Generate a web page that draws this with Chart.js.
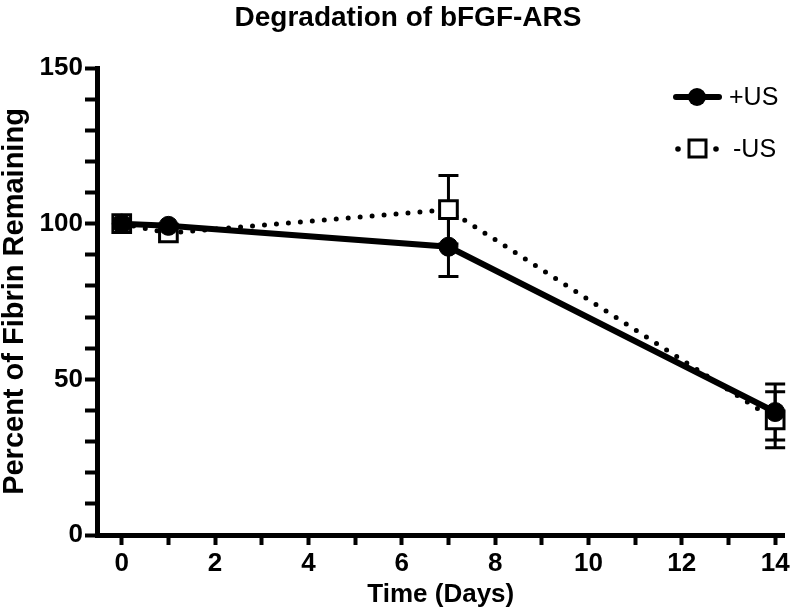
<!DOCTYPE html>
<html>
<head>
<meta charset="utf-8">
<script src="https://cdn.jsdelivr.net/npm/chart.js@4"></script>
<style>
  body { margin: 0; background: #fff; }
  #wrap { width: 800px; height: 614px; }
</style>
</head>
<body>
<div id="wrap"><canvas id="myChart"></canvas></div>
<script>
// data
var days = [0, 1, 7, 14];
var plusUS = [100, 99.3, 92.6, 39.5];
var plusErr = [0, 0, 9.6, 9];
var minusUS = [100, 97, 104.5, 37];
var minusErr = [0, 0, 11, 9];
var xTicks = [0, 2, 4, 6, 8, 10, 12, 14];
var yTicks = [0, 50, 100, 150];
var titleText = 'Degradation of bFGF-ARS';

var FONT = "'Liberation Sans', Arial, sans-serif";

function toPoints(xs, ys) {
  return xs.map(function (x, i) { return { x: x, y: ys[i] }; });
}

// error bars, drawn under the markers
var errorBars = {
  id: 'errorBars',
  beforeDatasetsDraw: function (chart) {
    var ctx = chart.ctx;
    var xs = chart.scales.x, ys = chart.scales.y;
    var sets = [[plusUS, plusErr], [minusUS, minusErr]];
    ctx.save();
    ctx.strokeStyle = '#000';
    ctx.lineWidth = 3;
    sets.forEach(function (s) {
      days.forEach(function (d, i) {
        var e = s[1][i];
        if (!e) return;
        var px = xs.getPixelForValue(d);
        var top = ys.getPixelForValue(s[0][i] + e);
        var bot = ys.getPixelForValue(s[0][i] - e);
        ctx.beginPath();
        ctx.moveTo(px, top); ctx.lineTo(px, bot);
        ctx.moveTo(px - 10, top); ctx.lineTo(px + 10, top);
        ctx.moveTo(px - 10, bot); ctx.lineTo(px + 10, bot);
        ctx.stroke();
      });
    });
    ctx.restore();
  }
};

// title (a bit right of centre, like the original) and a legend with line + marker samples
var extras = {
  id: 'extras',
  afterDraw: function (chart) {
    var ctx = chart.ctx;
    ctx.save();
    ctx.fillStyle = '#000';
    ctx.font = 'bold 28px ' + FONT;
    ctx.textAlign = 'center';
    ctx.textBaseline = 'middle';
    ctx.fillText(titleText, 408, 18);

    ctx.strokeStyle = '#000';
    // +US
    ctx.lineWidth = 6;
    ctx.lineCap = 'round';
    ctx.beginPath();
    ctx.moveTo(676, 97); ctx.lineTo(719, 97);
    ctx.stroke();
    ctx.beginPath();
    ctx.arc(697, 97, 9, 0, Math.PI * 2);
    ctx.fill();
    // -US
    ctx.beginPath();
    ctx.arc(678, 149, 2.8, 0, Math.PI * 2);
    ctx.arc(716, 149, 2.8, 0, Math.PI * 2);
    ctx.fill();
    ctx.lineWidth = 3;
    ctx.fillStyle = '#fff';
    ctx.fillRect(689, 140, 17, 17);
    ctx.strokeRect(689, 140, 17, 17);
    ctx.fillStyle = '#000';
    ctx.font = '25px ' + FONT;
    ctx.textAlign = 'left';
    ctx.fillText('+US', 729, 98);
    ctx.fillText('-US', 733, 150);
    ctx.restore();
  }
};

Chart.defaults.color = '#000';
Chart.defaults.font.family = FONT;

var ctx = document.getElementById('myChart').getContext('2d');
var myChart = new Chart(ctx, {
  type: 'line',
  data: {
    datasets: [{
      label: '+US',
      data: toPoints(days, plusUS),
      borderColor: '#000',
      backgroundColor: '#000',
      borderWidth: 6,
      pointRadius: 9.5,
      pointBorderWidth: 1,
      pointStyle: 'circle',
      clip: false
    }, {
      label: '-US',
      data: toPoints(days, minusUS),
      borderColor: '#000',
      backgroundColor: '#fff',
      borderWidth: 5,
      borderDash: [0, 12],
      borderCapStyle: 'round',
      pointRadius: 12.5,
      pointBorderWidth: 3,
      pointBorderColor: '#000',
      pointBackgroundColor: '#fff',
      pointStyle: 'rect',
      clip: false
    }]
  },
  options: {
    responsive: true,
    maintainAspectRatio: false,
    animation: false,
    layout: { padding: { top: 68, right: 10, left: 0, bottom: 0 } },
    plugins: {
      legend: { display: false },
      tooltip: { enabled: false },
      title: { display: false }
    },
    scales: {
      x: {
        type: 'linear',
        min: -0.53,
        max: 14.2,
        afterFit: function (s) { s.height = 79; },
        border: { display: true, color: '#000', width: 5 },
        grid: { drawOnChartArea: false, drawTicks: true, tickLength: 10, tickWidth: 4, tickColor: '#000' },
        ticks: {
          stepSize: 1,
          includeBounds: false,
          autoSkip: false,
          maxRotation: 0,
          padding: 3,
          font: { size: 26, weight: 'bold' },
          callback: function (v) { return xTicks.indexOf(v) >= 0 ? String(v) : ''; }
        },
        title: {
          display: true,
          text: 'Time (Days)',
          font: { size: 26, weight: 'bold', lineHeight: 1.2 },
          padding: { top: 0, bottom: 4 }
        }
      },
      y: {
        min: 0,
        max: 150,
        afterFit: function (s) { s.width = 97; },
        border: { display: true, color: '#000', width: 5 },
        grid: { drawOnChartArea: false, drawTicks: true, tickLength: 12, tickWidth: 4, tickColor: '#000' },
        ticks: {
          stepSize: 10,
          autoSkip: false,
          padding: 2,
          font: { size: 26, weight: 'bold' },
          callback: function (v) { return yTicks.indexOf(v) >= 0 ? String(v) : ''; }
        },
        title: {
          display: true,
          text: 'Percent of Fibrin Remaining',
          font: { size: 29, weight: 'bold', lineHeight: 1 },
          padding: { top: 0, bottom: 0 }
        }
      }
    }
  },
  plugins: [errorBars, extras]
});
</script>
</body>
</html>
